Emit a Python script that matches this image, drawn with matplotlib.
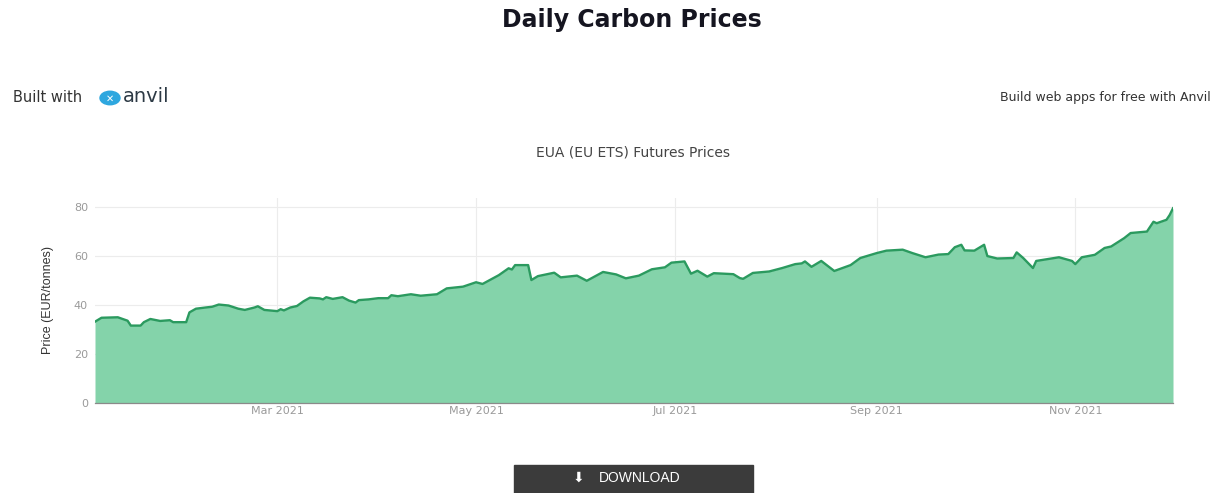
"""Daily carbon prices page: EUA futures area chart with page furniture."""

import matplotlib

matplotlib.use("Agg")
import matplotlib.dates as mdates
import matplotlib.patches as mpatches
import matplotlib.pyplot as plt
import numpy as np

# Data
dates = [
    "2021-01-04", "2021-01-06", "2021-01-11", "2021-01-14", "2021-01-15",
    "2021-01-18", "2021-01-19", "2021-01-21", "2021-01-24", "2021-01-27",
    "2021-01-28", "2021-02-01", "2021-02-02", "2021-02-04", "2021-02-07",
    "2021-02-09", "2021-02-11", "2021-02-14", "2021-02-17", "2021-02-19",
    "2021-02-22", "2021-02-23", "2021-02-25", "2021-03-01", "2021-03-02",
    "2021-03-03", "2021-03-05", "2021-03-07", "2021-03-09", "2021-03-11",
    "2021-03-14", "2021-03-15", "2021-03-16", "2021-03-18", "2021-03-21",
    "2021-03-23", "2021-03-25", "2021-03-26", "2021-03-29", "2021-04-01",
    "2021-04-04", "2021-04-05", "2021-04-07", "2021-04-11", "2021-04-14",
    "2021-04-19", "2021-04-22", "2021-04-27", "2021-05-01", "2021-05-03",
    "2021-05-08", "2021-05-11", "2021-05-12", "2021-05-13", "2021-05-17",
    "2021-05-18", "2021-05-20", "2021-05-25", "2021-05-27", "2021-06-01",
    "2021-06-04", "2021-06-09", "2021-06-13", "2021-06-16", "2021-06-20",
    "2021-06-24", "2021-06-28", "2021-06-30", "2021-07-04", "2021-07-06",
    "2021-07-08", "2021-07-11", "2021-07-13", "2021-07-19", "2021-07-21",
    "2021-07-22", "2021-07-25", "2021-07-30", "2021-08-03", "2021-08-07",
    "2021-08-09", "2021-08-10", "2021-08-12", "2021-08-15", "2021-08-19",
    "2021-08-24", "2021-08-27", "2021-09-01", "2021-09-04", "2021-09-09",
    "2021-09-12", "2021-09-16", "2021-09-20", "2021-09-23", "2021-09-25",
    "2021-09-27", "2021-09-28", "2021-10-01", "2021-10-04", "2021-10-05",
    "2021-10-08", "2021-10-13", "2021-10-14", "2021-10-16", "2021-10-19",
    "2021-10-20", "2021-10-27", "2021-10-31", "2021-11-01", "2021-11-03",
    "2021-11-07", "2021-11-10", "2021-11-12", "2021-11-16", "2021-11-18",
    "2021-11-23", "2021-11-25", "2021-11-26", "2021-11-29", "2021-11-30",
    "2021-12-01",
]
prices = [
    33.2, 34.8, 35.0, 33.6, 31.6,
    31.6, 33.0, 34.3, 33.5, 33.8,
    33.0, 33.0, 37.0, 38.5, 39.0,
    39.3, 40.2, 39.8, 38.5, 38.0,
    39.0, 39.5, 38.0, 37.5, 38.3,
    37.8, 39.0, 39.6, 41.5, 43.0,
    42.7, 42.3, 43.2, 42.5, 43.2,
    41.8, 41.0, 42.0, 42.3, 42.8,
    42.8, 44.0, 43.6, 44.4, 43.8,
    44.4, 46.8, 47.5, 49.3, 48.6,
    52.2, 55.0, 54.5, 56.3, 56.3,
    50.2, 51.8, 53.2, 51.3, 52.0,
    49.9, 53.5, 52.5, 50.9, 52.0,
    54.6, 55.4, 57.3, 57.8, 52.8,
    54.0, 51.6, 53.0, 52.6, 51.0,
    50.7, 53.1, 53.7, 55.1, 56.7,
    57.0, 57.8, 55.6, 58.0, 53.9,
    56.3, 59.2, 61.2, 62.2, 62.6,
    61.2, 59.5, 60.6, 60.8, 63.6,
    64.6, 62.3, 62.2, 64.6, 60.0,
    59.0, 59.2, 61.5, 59.2, 55.1,
    58.0, 59.5, 58.0, 56.7, 59.5,
    60.5, 63.3, 63.9, 67.3, 69.4,
    70.0, 74.0, 73.4, 74.8, 76.8,
    79.5,
]
y_ticks = [0, 20, 40, 60, 80]
x_ticks = ["2021-03-01", "2021-05-01", "2021-07-01", "2021-09-01", "2021-11-01"]

FILL = "#84d3aa"
LINE = "#2b9a5f"
TICK_GREY = "#9a9a9a"

W, H = 1217, 493
fig = plt.figure(figsize=(W / 100, H / 100), dpi=100)

# Page overlay in pixel coordinates for headings, logo and button
page = fig.add_axes([0, 0, 1, 1])
page.set_xlim(0, W)
page.set_ylim(H, 0)
page.axis("off")

page.text(632, 20, "Daily Carbon Prices", ha="center", va="center",
          fontsize=17, fontweight="bold", family="DejaVu Sans",
          color="#151520")
page.text(13, 98, "Built with", ha="left", va="center", fontsize=10.5,
          family="DejaVu Sans", color="#333333")
page.add_patch(mpatches.Ellipse((110, 98), 20, 13.5, color="#2ea7df"))
page.text(110, 98.5, "✕", ha="center", va="center", fontsize=7,
          color="white", fontweight="bold")
page.text(123, 96.5, "anvil", ha="left", va="center", fontsize=14,
          family="DejaVu Sans", color="#2d3a45")
page.text(1000, 98, "Build web apps for free with Anvil", ha="left",
          va="center", fontsize=9, family="DejaVu Sans", color="#333333")
page.text(633, 153, "EUA (EU ETS) Futures Prices", ha="center", va="center",
          fontsize=10, family="DejaVu Sans", color="#444444")

# Download button (bottom edge runs off the page)
page.add_patch(mpatches.Rectangle((514, 465), 239, 40, color="#3b3b3b"))
page.text(578, 478, "⬇", ha="center", va="center", fontsize=10,
          color="white", family="DejaVu Sans")
page.text(599, 478, "DOWNLOAD", ha="left", va="center", fontsize=10,
          color="white", family="Liberation Sans")

# The price chart
axis = fig.add_axes([95 / W, (H - 403) / H, (1173 - 95) / W, (403 - 198) / H])
x = mdates.datestr2num(dates)
y = np.array(prices)
axis.fill_between(x, 0, y, color=FILL, linewidth=0)
axis.plot(x, y, color=LINE, linewidth=1.7)

axis.set_xlim(x[0], x[-1])
axis.set_ylim(0, 83.7)
axis.set_yticks(y_ticks)
axis.set_xticks(mdates.datestr2num(x_ticks))
axis.xaxis.set_major_formatter(mdates.DateFormatter("%b %Y"))
axis.tick_params(axis="both", length=0, labelsize=8, labelcolor=TICK_GREY)
axis.tick_params(axis="x", pad=2)
axis.tick_params(axis="y", pad=5)
axis.grid(True, color="#ececec", linewidth=0.8)
axis.set_axisbelow(True)
for side in ["top", "right", "left"]:
    axis.spines[side].set_visible(False)
axis.spines["bottom"].set_color("#8a8a8a")
axis.spines["bottom"].set_linewidth(0.9)
axis.set_ylabel("Price (EUR/tonnes)", fontsize=9, color="#333333",
                family="Liberation Sans", labelpad=14)

fig.savefig("out.png", dpi=100)
